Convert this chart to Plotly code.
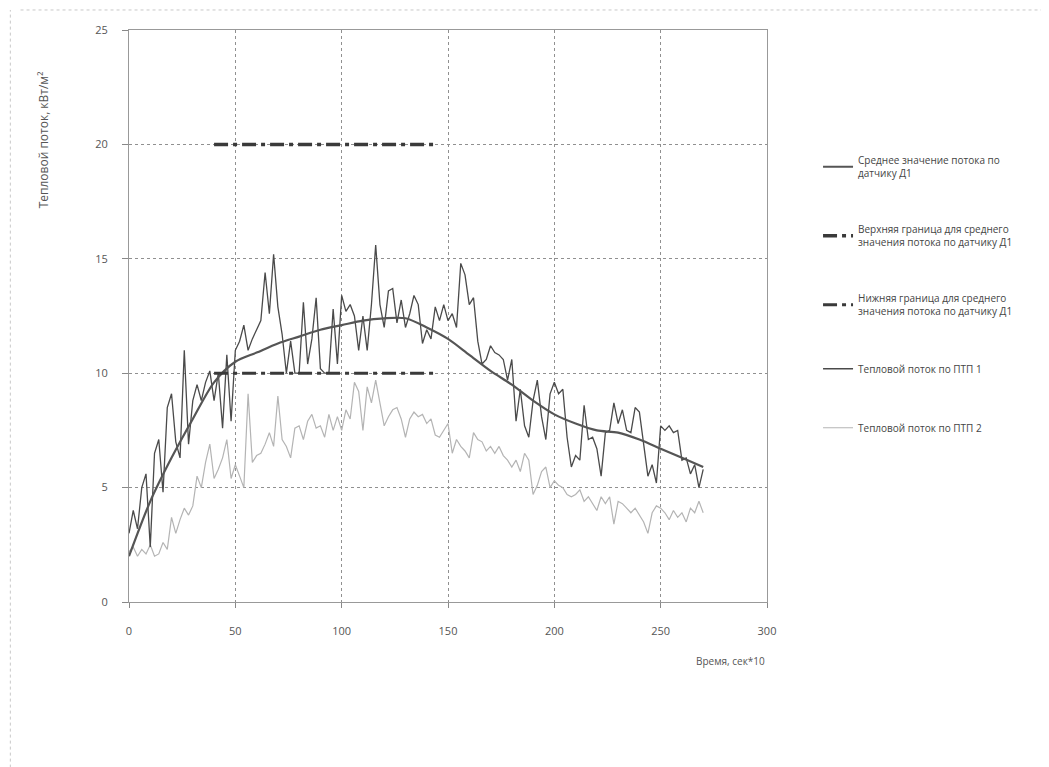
import plotly.graph_objects as go

# ---- data ----
x_step2 = list(range(0, 272, 2))

ptp1 = [3.0, 4.0, 3.2, 5.0, 5.6, 2.4, 6.5, 7.1, 4.8, 8.5,
        9.1, 7.0, 6.3, 11.0, 6.9, 8.8, 9.5, 8.8, 9.6, 10.1,
        8.8, 10.0, 7.6, 10.8, 7.9, 11.0, 11.4, 12.1, 11.0, 11.5,
        11.9, 12.3, 14.4, 12.6, 15.2, 12.9, 11.7, 10.0, 11.4, 10.0,
        10.0, 13.1, 10.4, 11.5, 13.3, 10.2, 10.0, 10.0, 12.8, 10.4,
        13.4, 12.7, 13.0, 12.5, 11.0, 12.5, 11.0, 13.0, 15.6, 13.0,
        12.0, 13.6, 13.7, 12.2, 13.2, 12.0, 12.6, 13.4, 13.0, 11.3,
        11.9, 11.5, 12.9, 12.3, 13.0, 12.3, 12.6, 12.0, 14.8, 14.3,
        13.0, 13.3, 11.4, 10.4, 10.6, 11.2, 10.9, 10.8, 10.6, 9.7,
        10.6, 7.9, 9.3, 7.7, 7.2, 8.8, 9.7, 8.1, 7.1, 9.1,
        9.6, 9.1, 9.3, 7.2, 5.9, 6.4, 6.2, 8.6, 7.1, 7.2,
        6.7, 5.5, 7.4, 7.5, 8.7, 7.8, 8.4, 7.5, 7.4, 8.5,
        8.3, 6.9, 5.5, 6.0, 5.2, 7.7, 7.5, 7.7, 7.4, 7.5,
        6.2, 6.3, 5.6, 6.0, 5.0, 5.8]

ptp2 = [2.2, 2.4, 2.0, 2.3, 2.1, 2.5, 2.0, 2.1, 2.6, 2.3,
        3.7, 3.0, 3.6, 4.1, 3.8, 4.2, 5.5, 5.0, 6.1, 6.9,
        5.4, 5.8, 6.3, 7.1, 5.4, 6.0, 5.5, 5.0, 9.1, 6.1,
        6.4, 6.5, 6.9, 7.4, 6.8, 9.0, 7.1, 6.8, 6.3, 7.6,
        7.7, 7.1, 7.9, 8.2, 7.6, 7.7, 7.2, 8.2, 7.5, 8.1,
        7.5, 8.4, 8.0, 9.6, 9.2, 7.5, 9.4, 8.7, 9.7, 8.7,
        7.7, 8.1, 8.4, 8.5, 8.0, 7.2, 8.0, 8.3, 8.1, 8.2,
        7.8, 8.0, 7.3, 7.2, 7.5, 7.8, 6.5, 7.1, 6.8, 6.6,
        6.3, 7.4, 7.1, 7.0, 6.6, 6.8, 6.5, 6.8, 6.4, 6.2,
        5.9, 6.2, 5.7, 6.5, 6.2, 4.7, 5.1, 5.7, 5.9, 5.0,
        5.3, 5.1, 5.0, 4.7, 4.6, 4.7, 4.9, 4.4, 4.6, 4.3,
        4.0, 4.6, 4.3, 4.6, 3.4, 4.4, 4.3, 4.1, 3.9, 4.1,
        3.8, 3.5, 3.0, 3.9, 4.2, 4.1, 3.9, 3.6, 4.0, 3.7,
        3.9, 3.5, 4.1, 3.9, 4.4, 3.9]

x_mean = [0, 10, 20, 30, 40, 50, 60, 70, 80, 90, 100, 110, 120, 130,
          140, 150, 160, 170, 180, 190, 200, 210, 220, 230, 240, 250, 260, 270]
mean_d1 = [2.0, 4.4, 6.3, 8.0, 9.6, 10.5, 10.9, 11.3, 11.6, 11.9, 12.1, 12.3, 12.4, 12.4,
           12.0, 11.5, 10.8, 10.1, 9.5, 8.8, 8.2, 7.8, 7.5, 7.4, 7.1, 6.7, 6.3, 5.9]

x_bounds = [40, 145]
upper_bound = [20, 20]
lower_bound = [10, 10]

x_ticks = [0, 50, 100, 150, 200, 250, 300]
y_ticks = [0, 5, 10, 15, 20, 25]

names = [
    "Среднее значение потока по<br>датчику Д1",
    "Верхняя граница для среднего<br>значения потока по датчику Д1",
    "Нижняя граница для среднего<br>значения потока по датчику Д1",
    "Тепловой поток по ПТП 1",
    "Тепловой поток по ПТП 2",
]

FONT = "Open Sans"

fig = go.Figure()
fig.add_trace(go.Scatter(x=x_step2, y=ptp2, mode="lines", name=names[4],
                         line=dict(color="#b4b4b4", width=1.2), legendgroup="e", legendrank=5))
fig.add_trace(go.Scatter(x=x_step2, y=ptp1, mode="lines", name=names[3],
                         line=dict(color="#4a4a4a", width=1.3), legendgroup="d", legendrank=4))
fig.add_trace(go.Scatter(x=x_mean, y=mean_d1, mode="lines", name=names[0],
                         line=dict(color="#555555", width=2.2, shape="spline", smoothing=0.8),
                         legendgroup="a", legendrank=1))
fig.add_trace(go.Scatter(x=x_bounds, y=upper_bound, mode="lines", name=names[1],
                         line=dict(color="#3a3a3a", width=3.5, dash="14px,5px,4px,5px"),
                         legendgroup="b", legendrank=2))
fig.add_trace(go.Scatter(x=x_bounds, y=lower_bound, mode="lines", name=names[2],
                         line=dict(color="#3a3a3a", width=3, dash="14px,5px,4px,5px"),
                         legendgroup="c", legendrank=3))

fig.update_layout(
    width=1049, height=767,
    margin=dict(l=121, r=290, t=22, b=173, autoexpand=False),
    paper_bgcolor="white", plot_bgcolor="white",
    font=dict(family=FONT, size=11, color="#444"),
    legend=dict(x=1.08, y=0.795, xanchor="left", yanchor="top",
                traceorder="grouped", tracegroupgap=40,
                font=dict(size=10, color="#444"), itemwidth=30,
                bgcolor="rgba(0,0,0,0)"),
    xaxis=dict(range=[0, 300], tickvals=x_ticks, ticks="outside", ticklen=5,
               tickcolor="#888", showgrid=True, gridcolor="#909090", griddash="dot",
               gridwidth=1, showline=True, linecolor="#999", mirror=True,
               zeroline=False, ticklabelstandoff=14, automargin=False,
               tickfont=dict(size=11, color="#555")),
    yaxis=dict(range=[0, 25], tickvals=y_ticks, ticks="outside", ticklen=6,
               tickcolor="#888", showgrid=True, gridcolor="#909090", griddash="dot",
               gridwidth=1, showline=True, linecolor="#999", mirror=True,
               zeroline=False, ticklabelstandoff=12, automargin=False,
               tickfont=dict(size=11, color="#555")),
    annotations=[
        dict(text="Время, сек*10", xref="paper", yref="paper",
             x=1.0, y=-0.088, xanchor="right", yanchor="top", showarrow=False,
             font=dict(size=10, color="#555")),
        dict(text="Тепловой поток, кВт/м²", xref="paper", yref="paper",
             x=-0.134, y=0.808, xanchor="center", yanchor="middle", textangle=-90,
             showarrow=False, font=dict(size=12, color="#555")),
    ],
    shapes=[
        dict(type="line", xref="paper", yref="paper", x0=-0.17, x1=1.45, y0=1.035, y1=1.035,
             line=dict(color="#c8c8c8", width=1, dash="dot")),
        dict(type="line", xref="paper", yref="paper", x0=-0.186, x1=-0.186, y0=-0.30, y1=1.035,
             line=dict(color="#c8c8c8", width=1, dash="dot")),
    ],
)

fig.write_html("out.html")
